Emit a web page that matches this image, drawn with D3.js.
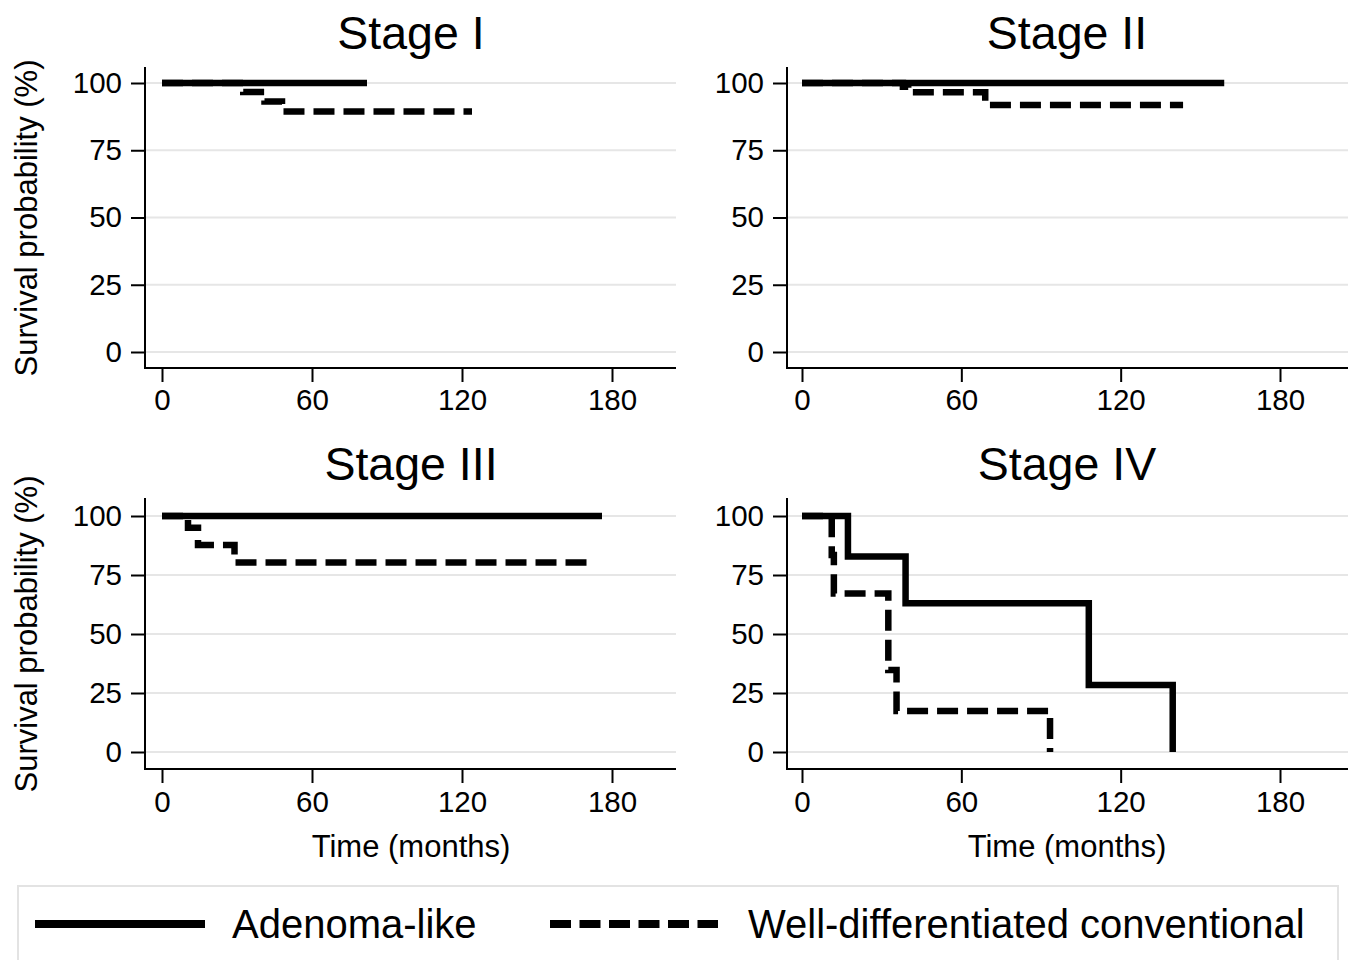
<!DOCTYPE html>
<html>
<head>
<meta charset="utf-8">
<script src="https://cdn.jsdelivr.net/npm/d3@7"></script>
<style>
  html, body { margin: 0; padding: 0; background: #fff; }
  svg { display: block; }
  text { font-family: "Liberation Sans", Arial, Helvetica, sans-serif; fill: #000; }
</style>
</head>
<body>
<svg id="chart" width="1358" height="960"></svg>
<script>
// ---- data ----
const stages = ["Stage I", "Stage II", "Stage III", "Stage IV"];
const seriesNames = ["Adenoma-like", "Well-differentiated conventional"];
const xTicks = [0, 60, 120, 180];
const yTicks = [0, 25, 50, 75, 100];
const xTitle = "Time (months)";
const yTitle = "Survival probability (%)";

// Kaplan-Meier step points (time in months, survival in %)
const adenomaTimes = [[0, 82], [0, 159], [0, 176], [0, 17.3, 39, 108, 139.6]];
const adenomaSurv  = [[100, 100], [100, 100], [100, 100], [100, 82.8, 63, 28.4, 0]];
const wellDiffTimes = [[0, 32.5, 41, 48, 124], [0, 38, 40, 69, 143.5], [0, 10.4, 14.4, 29, 170], [0, 11.2, 12, 32.5, 35.6, 93.4]];
const wellDiffSurv  = [[100, 96.7, 93.1, 89.4, 89.4], [100, 98.6, 96.6, 91.8, 91.8], [100, 95, 87.7, 80.3, 80.3], [100, 83.5, 67.2, 34.7, 17.4, 0]];

// ---- layout ----
const cols = [
  { axisX: 145, x0: 162, x180: 612, right: 676, cx: 411 },
  { axisX: 787, x0: 802, x180: 1280, right: 1348, cx: 1067 }
];
const rows = [
  { top: 67, y0: 352, y100: 83, bottom: 368, titleY: 49, tickY: 410, yMid: 218 },
  { top: 498, y0: 752, y100: 516, bottom: 769, titleY: 480, tickY: 812, yMid: 634 }
];

const svg = d3.select("#chart");
const LW = 6.5;
const DASH = "21,9";

stages.forEach((title, i) => {
  const c = cols[i % 2], r = rows[Math.floor(i / 2)];
  const x = d3.scaleLinear().domain([0, 180]).range([c.x0, c.x180]);
  const y = d3.scaleLinear().domain([0, 100]).range([r.y0, r.y100]);
  const g = svg.append("g");

  // gridlines
  g.selectAll("line.grid").data(yTicks).join("line")
    .attr("x1", c.axisX + 1).attr("x2", c.right)
    .attr("y1", d => y(d)).attr("y2", d => y(d))
    .attr("stroke", "#e6e6e6").attr("stroke-width", 2);

  // axes lines
  g.append("line").attr("x1", c.axisX).attr("x2", c.axisX).attr("y1", r.top).attr("y2", r.bottom + 1)
    .attr("stroke", "#000").attr("stroke-width", 2);
  g.append("line").attr("x1", c.axisX - 1).attr("x2", c.right).attr("y1", r.bottom).attr("y2", r.bottom)
    .attr("stroke", "#000").attr("stroke-width", 2);

  // y ticks
  const ya = g.append("g").attr("transform", `translate(${c.axisX},0)`)
    .call(d3.axisLeft(y).tickValues(yTicks).tickSize(14).tickPadding(9));
  ya.select(".domain").remove();
  ya.selectAll(".tick line").attr("stroke", "#000").attr("stroke-width", 2);
  ya.selectAll(".tick text").attr("font-size", 29.5).attr("fill", "#000")
    .attr("font-family", "Liberation Sans, Arial, sans-serif");

  // x ticks
  const xa = g.append("g").attr("transform", `translate(0,${r.bottom})`)
    .call(d3.axisBottom(x).tickValues(xTicks).tickSize(14).tickPadding(6));
  xa.select(".domain").remove();
  xa.selectAll(".tick line").attr("stroke", "#000").attr("stroke-width", 2);
  xa.selectAll(".tick text").attr("font-size", 29.5).attr("fill", "#000")
    .attr("font-family", "Liberation Sans, Arial, sans-serif")
    .attr("dy", null).attr("y", r.tickY - r.bottom);

  // title
  g.append("text").attr("x", c.cx).attr("y", r.titleY).attr("text-anchor", "middle")
    .attr("font-size", 46.5).text(title);

  // x title on bottom row
  if (i >= 2) {
    g.append("text").attr("x", c.cx).attr("y", 857).attr("text-anchor", "middle")
      .attr("font-size", 31).text(xTitle);
  }
  // y title on left column
  if (i % 2 === 0) {
    g.append("text").attr("transform", `translate(37,${r.yMid}) rotate(-90)`)
      .attr("text-anchor", "middle").attr("font-size", 31).text(yTitle);
  }

  const line = d3.line().x(d => x(d[0])).y(d => y(d[1])).curve(d3.curveStepAfter);
  const wd = d3.zip(wellDiffTimes[i], wellDiffSurv[i]);
  const ad = d3.zip(adenomaTimes[i], adenomaSurv[i]);

  g.append("path").attr("d", line(wd)).attr("fill", "none").attr("stroke", "#000")
    .attr("stroke-width", LW).attr("stroke-dasharray", DASH)
    .attr("stroke-linejoin", "miter").attr("stroke-linecap", "butt");
  g.append("path").attr("d", line(ad)).attr("fill", "none").attr("stroke", "#000")
    .attr("stroke-width", LW).attr("stroke-linejoin", "miter").attr("stroke-linecap", "butt");
});

// legend
const lg = svg.append("g");
lg.append("rect").attr("x", 18).attr("y", 886).attr("width", 1320).attr("height", 100)
  .attr("fill", "#fff").attr("stroke", "#e3e3e3").attr("stroke-width", 2);
const legendItems = [
  { x1: 35, x2: 205, tx: 232, dash: null },
  { x1: 550, x2: 718, tx: 748, dash: "21,8.5" }
];
legendItems.forEach((it, k) => {
  lg.append("line").attr("x1", it.x1).attr("x2", it.x2).attr("y1", 924).attr("y2", 924)
    .attr("stroke", "#000").attr("stroke-width", 8)
    .attr("stroke-dasharray", it.dash);
  lg.append("text").attr("x", it.tx).attr("y", 938).attr("font-size", 40).text(seriesNames[k]);
});
</script>
</body>
</html>
